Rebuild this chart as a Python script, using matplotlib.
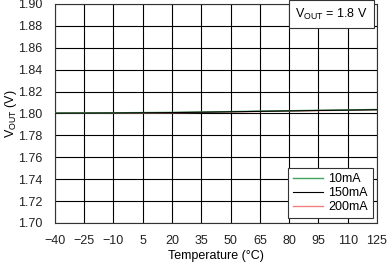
import matplotlib
matplotlib.use("Agg")
import matplotlib.pyplot as plt

temps = [-40, -25, -10, 5, 20, 35, 50, 65, 80, 95, 110, 125]
vout_10ma = [1.8004, 1.8005, 1.8006, 1.8008, 1.8010, 1.8013, 1.8017, 1.8021, 1.8025, 1.8029, 1.8032, 1.8036]
vout_150ma = [1.8002, 1.8003, 1.8004, 1.8006, 1.8008, 1.8011, 1.8015, 1.8019, 1.8023, 1.8027, 1.8030, 1.8034]
vout_200ma = [1.8001, 1.8002, 1.8003, 1.8005, 1.8007, 1.8010, 1.8014, 1.8018, 1.8022, 1.8026, 1.8029, 1.8033]
yticks = [1.70, 1.72, 1.74, 1.76, 1.78, 1.80, 1.82, 1.84, 1.86, 1.88, 1.90]

plt.rcParams["font.family"] = ["Liberation Sans", "DejaVu Sans"]
FS = 9.0

fig = plt.figure(figsize=(3.87, 2.62), dpi=100, facecolor="white")
ax = fig.add_axes([0.142, 0.149, 0.832, 0.836])

ax.plot(temps, vout_200ma, color="#F08080", lw=1.0, label="200mA", zorder=3)
ax.plot(temps, vout_10ma, color="#3FA55F", lw=1.0, label="10mA", zorder=4)
ax.plot(temps, vout_150ma, color="black", lw=0.8, label="150mA", zorder=5)

ax.set_xlim(-40, 125)
ax.set_ylim(1.70, 1.90)
ax.set_xticks(temps)
ax.set_xticklabels([str(t).replace("-", "\u2212") for t in temps])
ax.set_yticks(yticks)
ax.set_yticklabels([f"{v:.2f}" for v in yticks])
ax.tick_params(length=0, labelsize=FS, colors="#222222")
ax.tick_params(axis="x", pad=9)
ax.tick_params(axis="y", pad=9)
ax.grid(True, color="black", lw=0.8)
for s in ax.spines.values():
    s.set_color("#333333")
    s.set_linewidth(0.8)

ax.set_xlabel("Temperature (°C)", fontsize=FS, labelpad=2)
ax.set_ylabel("V$_{\\mathregular{OUT}}$ (V)", fontsize=FS)
ax.yaxis.set_label_coords(-0.112, 0.5)

ax.text(0.972, 0.953, "V$_{\\mathregular{OUT}}$ = 1.8 V", transform=ax.transAxes,
        ha="right", va="center", fontsize=FS,
        bbox=dict(boxstyle="square,pad=0.5", facecolor="white", edgecolor="#333333", lw=0.8),
        zorder=6)

handles, labels = ax.get_legend_handles_labels()
order = [1, 2, 0]
leg = ax.legend([handles[i] for i in order], [labels[i] for i in order],
                loc="lower right", fontsize=FS, frameon=True, fancybox=False,
                handlelength=2.4, handletextpad=0.4, borderpad=0.4, labelspacing=0.15,
                borderaxespad=0, bbox_to_anchor=(0.988, 0.023))
leg.get_frame().set_edgecolor("#333333")
leg.get_frame().set_linewidth(0.8)
leg.get_frame().set_alpha(1)

fig.savefig("out.png", dpi=100, facecolor="white")
